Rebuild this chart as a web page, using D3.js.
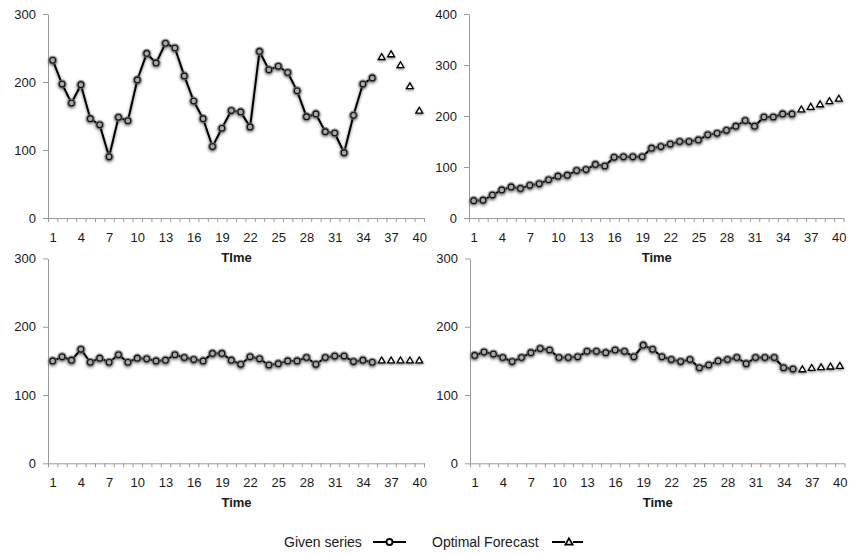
<!DOCTYPE html>
<html>
<head>
<meta charset="utf-8">
<script src="https://cdn.jsdelivr.net/npm/d3@7"></script>
<style>
  html, body { margin: 0; padding: 0; background: #fff; }
  svg { display: block; font-family: "Liberation Sans", Arial, sans-serif; }
</style>
</head>
<body>
<svg id="chart" width="849" height="554"></svg>
<script>
// ---- data ----
const timeGiven = [1,2,3,4,5,6,7,8,9,10,11,12,13,14,15,16,17,18,19,20,21,22,23,24,25,26,27,28,29,30,31,32,33,34,35];
const timeForecast = [36,37,38,39,40];
const timeTicks = [1,4,7,10,13,16,19,22,25,28,31,34,37,40];

const given1 = [232,197,169,196,146,137,90,148,143,203,242,228,257,250,209,172,146,105,132,158,156,134,245,218,223,214,187,149,153,127,125,96,151,197,206];
const forecast1 = [236,240,224,193,157];

const given2 = [34,35,45,55,61,58,64,67,75,82,84,93,95,105,102,119,120,120,120,137,140,145,150,150,153,163,166,172,180,191,180,198,198,204,204];
const forecast2 = [212,217,222,228,233];

const given3 = [150,156,151,167,148,154,148,159,148,154,153,150,151,159,155,152,150,161,161,151,145,156,153,144,146,150,150,155,145,155,157,157,149,151,148];
const forecast3 = [150,150,150,150,150];

const given4 = [158,163,160,155,149,155,162,168,166,155,155,156,164,164,162,166,164,156,173,167,156,152,149,152,140,144,150,152,155,146,155,155,155,140,138];
const forecast4 = [137,139,140,141,142];

const yTicks1 = [0,100,200,300];
const yTicks2 = [0,100,200,300,400];
const yTicks3 = [0,100,200,300];
const yTicks4 = [0,100,200,300];

const xTitles = ["TIme", "Time", "Time", "Time"];
const legendLabels = ["Given series", "Optimal Forecast"];

// ---- layout ----
const panels = [
  {given: given1, forecast: forecast1, yTicks: yTicks1, title: xTitles[0], x0: 48, x1: 424, top: 14, bottom: 218},
  {given: given2, forecast: forecast2, yTicks: yTicks2, title: xTitles[1], x0: 469, x1: 843.5, top: 14, bottom: 218},
  {given: given3, forecast: forecast3, yTicks: yTicks3, title: xTitles[2], x0: 48, x1: 424, top: 258.5, bottom: 463.3},
  {given: given4, forecast: forecast4, yTicks: yTicks4, title: xTitles[3], x0: 470, x1: 844.5, top: 258.5, bottom: 463.3}
];

const svg = d3.select("#chart");
const defs = svg.append("defs");
const f = defs.append("filter").attr("id", "sh")
  .attr("x", "-50%").attr("y", "-50%").attr("width", "200%").attr("height", "200%");
f.append("feGaussianBlur").attr("in", "SourceAlpha").attr("stdDeviation", 1.4).attr("result", "b");
f.append("feOffset").attr("in", "b").attr("dx", 0).attr("dy", 1).attr("result", "o");
const ct = f.append("feComponentTransfer").attr("in", "o").attr("result", "s");
ct.append("feFuncA").attr("type", "linear").attr("slope", 0.55);
const fm = f.append("feMerge");
fm.append("feMergeNode").attr("in", "s");
fm.append("feMergeNode").attr("in", "SourceGraphic");

const axisColor = "#9a9a9a";
const textColor = "#1a1a1a";

panels.forEach(p => {
  const g = svg.append("g");
  const ymax = p.yTicks[p.yTicks.length - 1];
  const x = d3.scaleLinear().domain([0.5, 40.5]).range([p.x0, p.x1]);
  const y = d3.scaleLinear().domain([0, ymax]).range([p.bottom, p.top]);

  // y axis
  const ya = g.append("g").attr("transform", `translate(${p.x0},0)`)
    .call(d3.axisLeft(y).tickValues(p.yTicks).tickSize(5).tickPadding(7).tickSizeOuter(0));
  ya.select(".domain").attr("stroke", axisColor);
  ya.selectAll(".tick line").attr("stroke", axisColor);
  ya.selectAll(".tick text").attr("fill", textColor).style("font-size", "13px")
    .style("font-family", "'Liberation Sans', Arial, sans-serif");

  // x axis: boundary ticks
  const bounds = d3.range(0, 41).map(i => i + 0.5);
  const xa = g.append("g").attr("transform", `translate(0,${p.bottom})`)
    .call(d3.axisBottom(x).tickValues(bounds).tickSize(4).tickSizeOuter(0).tickFormat(""));
  xa.select(".domain").attr("stroke", axisColor);
  xa.selectAll(".tick line").attr("stroke", axisColor);

  // x labels
  const xl = g.append("g").attr("transform", `translate(0,${p.bottom})`)
    .call(d3.axisBottom(x).tickValues(timeTicks).tickSize(0).tickPadding(14.5));
  xl.select(".domain").remove();
  xl.selectAll(".tick text").attr("fill", textColor).style("font-size", "13px")
    .style("font-family", "'Liberation Sans', Arial, sans-serif");

  // x title
  g.append("text").attr("x", (p.x0 + p.x1) / 2 + 0.5).attr("y", p.bottom + 43.5)
    .attr("text-anchor", "middle").attr("fill", textColor)
    .style("font-size", "13px").style("font-weight", "bold").text(p.title);

  // given line
  const pts = p.given.map((v, i) => [timeGiven[i], v]);
  const line = d3.line().x(d => x(d[0])).y(d => y(d[1]));
  const dg = g.append("g").attr("filter", "url(#sh)");
  dg.append("path").datum(pts).attr("d", line)
    .attr("fill", "none").attr("stroke", "#000").attr("stroke-width", 2).attr("stroke-linejoin", "round");
  dg.selectAll("circle.glow").data(pts).join("circle").attr("class", "glow")
    .attr("cx", d => x(d[0])).attr("cy", d => y(d[1])).attr("r", 4.6)
    .attr("fill", "#6e6e6e").attr("opacity", 0.75);
  dg.selectAll("circle.m").data(pts).join("circle").attr("class", "m")
    .attr("cx", d => x(d[0])).attr("cy", d => y(d[1])).attr("r", 2.8)
    .attr("fill", "#a8a8a8").attr("stroke", "#111").attr("stroke-width", 1.1);

  // forecast triangles
  const fp = p.forecast.map((v, i) => [timeForecast[i], v]);
  const tri = d3.symbol().type(d3.symbolTriangle).size(20);
  g.append("g").attr("filter", "url(#sh)")
    .selectAll("path").data(fp).join("path")
    .attr("transform", d => `translate(${x(d[0])},${y(d[1])})`)
    .attr("d", tri()).attr("fill", "#fff").attr("stroke", "#000").attr("stroke-width", 1.3);
});

// ---- legend ----
const lg = svg.append("g").style("font-size", "14px").attr("fill", textColor);
const ly = 542;
lg.append("text").attr("x", 284).attr("y", ly + 5).text(legendLabels[0]);
lg.append("line").attr("x1", 373).attr("x2", 386).attr("y1", ly).attr("y2", ly).attr("stroke", "#000").attr("stroke-width", 2);
lg.append("circle").attr("cx", 389.5).attr("cy", ly).attr("r", 3).attr("fill", "none").attr("stroke", "#000").attr("stroke-width", 1.8);
lg.append("line").attr("x1", 393).attr("x2", 406).attr("y1", ly).attr("y2", ly).attr("stroke", "#000").attr("stroke-width", 2);

lg.append("text").attr("x", 432).attr("y", ly + 5).text(legendLabels[1]);
lg.append("line").attr("x1", 552).attr("x2", 565).attr("y1", ly).attr("y2", ly).attr("stroke", "#000").attr("stroke-width", 2);
lg.append("path").attr("transform", `translate(569,${ly + 0.5})`)
  .attr("d", d3.symbol().type(d3.symbolTriangle).size(22)()).attr("fill", "none").attr("stroke", "#000").attr("stroke-width", 1.8);
lg.append("line").attr("x1", 573).attr("x2", 583).attr("y1", ly).attr("y2", ly).attr("stroke", "#000").attr("stroke-width", 2);
</script>
</body>
</html>
